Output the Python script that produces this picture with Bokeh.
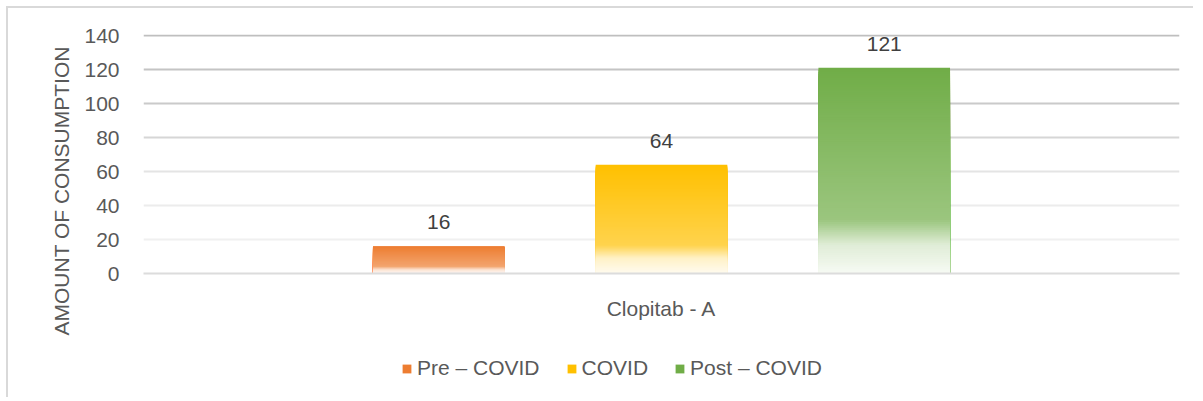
from bokeh.plotting import figure
from bokeh.layouts import column
from bokeh.models import (ColumnDataSource, FactorRange, Range1d, FixedTicker,
                          Span, Legend, LegendItem, Title)
from bokeh.transform import dodge
from bokeh.core.properties import value
from bokeh.embed import file_html
from bokeh.resources import INLINE

# ---------------- data ----------------
category = "Clopitab - A"
series = ["Pre – COVID", "COVID", "Post – COVID"]
values = [16, 64, 121]
y_ticks = [0, 20, 40, 60, 80, 100, 120, 140]
y_title = "AMOUNT OF CONSUMPTION"

# ---------------- style ----------------
base_colors = ["#ED7D31", "#FFC000", "#70AD47"]
offsets = [-0.215, 0.0, 0.215]
bar_width = 0.127
grid_colors = ["#dcdcdc", "#f0f0f0", "#ececec", "#e4e4e4",
               "#d6d6d6", "#cacaca", "#c4c4c4", "#bfbfbf"]
FONT = "Liberation Sans"
N = 100


def hex2rgb(h):
    h = h.lstrip("#")
    return tuple(int(h[i:i + 2], 16) for i in (0, 2, 4))


def mix(rgb, w):
    return tuple(c + (255 - c) * w for c in rgb)


def grad(base, f):
    """f = 0 at top of bar, 1 at bottom."""
    b = hex2rgb(base)
    stops = [(0.0, mix(b, 0.0)), (0.74, mix(b, 0.30)),
             (0.86, mix(b, 0.78)), (1.0, mix(b, 0.94))]
    for (f0, c0), (f1, c1) in zip(stops[:-1], stops[1:]):
        if f <= f1:
            t = (f - f0) / (f1 - f0)
            c = tuple(a + (bb - a) * t for a, bb in zip(c0, c1))
            return "#%02x%02x%02x" % tuple(int(round(x)) for x in c)
    c = stops[-1][1]
    return "#%02x%02x%02x" % tuple(int(round(x)) for x in c)


p = figure(x_range=FactorRange(factors=[category], range_padding=0),
           y_range=Range1d(0, 140.6),
           width=1187, height=340,
           output_backend="svg", toolbar_location=None,
           min_border_left=135, min_border_right=16,
           min_border_top=26, min_border_bottom=75)
p.outline_line_color = None
p.grid.visible = False
p.background_fill_color = "white"
p.border_fill_color = "white"

# gridlines
for t, c in zip(y_ticks, grid_colors):
    if t == 0:
        continue
    p.add_layout(Span(location=t, dimension="width", line_color=c,
                      line_width=2, level="underlay"))

# bars with vertical gradient (stacked overlapping slices)
for name, v, base, off in zip(series, values, base_colors, offsets):
    ks = list(range(N - 1, -1, -1))
    tops = [v * (k + 1) / N for k in ks]
    cols = [grad(base, 1 - (k + 0.5) / N) for k in ks]
    src = ColumnDataSource(dict(x=[category] * len(ks), top=tops, color=cols))
    p.vbar(x=dodge("x", off, range=p.x_range), width=bar_width,
           top="top", bottom=0, source=src,
           fill_color="color", line_color=None)
    lsrc = ColumnDataSource(dict(x=[category], y=[v], label=[str(v)]))
    p.text(x=dodge("x", off, range=p.x_range), y="y", text="label", source=lsrc,
           y_offset=-24, text_align="center", text_baseline="middle",
           text_font=value(FONT), text_font_size="21px", text_color="#404040")

# axes
p.yaxis.ticker = FixedTicker(ticks=y_ticks)
p.yaxis.axis_line_color = None
p.yaxis.major_tick_line_color = None
p.yaxis.major_tick_out = 0
p.yaxis.minor_tick_line_color = None
p.yaxis.major_label_standoff = 24
p.yaxis.major_label_text_font = FONT
p.yaxis.major_label_text_font_size = "21px"
p.yaxis.major_label_text_color = "#595959"

p.xaxis.axis_line_color = "#dcdcdc"
p.xaxis.axis_line_width = 2
p.xaxis.major_tick_line_color = None
p.xaxis.major_tick_out = 0
p.xaxis.minor_tick_line_color = None
p.xaxis.major_label_standoff = 23
p.xaxis.major_label_text_font = FONT
p.xaxis.major_label_text_font_size = "21px"
p.xaxis.major_label_text_color = "#595959"

# y-axis title as a side title (shifted along the axis like the original)
p.add_layout(Title(text=y_title, align="left", offset=-62,
                   text_font=FONT, text_font_size="21px",
                   text_font_style="normal", text_color="#595959",
                   standoff=18), "left")

# legend strip below the chart
lg = figure(x_range=FactorRange(factors=[category], range_padding=0),
            y_range=Range1d(1000, 1001), width=1187, height=51,
            output_backend="svg", toolbar_location=None,
            x_axis_type=None, y_axis_type=None,
            min_border_left=0, min_border_right=0,
            min_border_top=0, min_border_bottom=0)
lg.outline_line_color = None
lg.grid.visible = False
items = []
for name, v, base in zip(series, values, base_colors):
    s = ColumnDataSource(dict(x=[category], top=[v]))
    r = lg.vbar(x="x", top="top", bottom=0, width=bar_width, source=s,
                fill_color=base, line_color=None)
    items.append(LegendItem(label=name, renderers=[r]))
legend = Legend(items=items, orientation="horizontal",
                location=(258, 17), glyph_width=11, glyph_height=11,
                label_standoff=5, spacing=26, padding=0, margin=0,
                label_height=24,
                border_line_color=None, background_fill_alpha=0,
                label_text_font=FONT, label_text_font_size="21px",
                label_text_color="#595959")
lg.add_layout(legend, "center")

p.styles = {"margin-left": "6px", "margin-top": "6px",
            "border-left": "2px solid #d9d9d9",
            "border-top": "2px solid #d9d9d9"}
lg.styles = {"margin-left": "6px", "border-left": "2px solid #d9d9d9"}

layout = column(p, lg, spacing=0)
open("out.html", "w").write(file_html(layout, INLINE))
